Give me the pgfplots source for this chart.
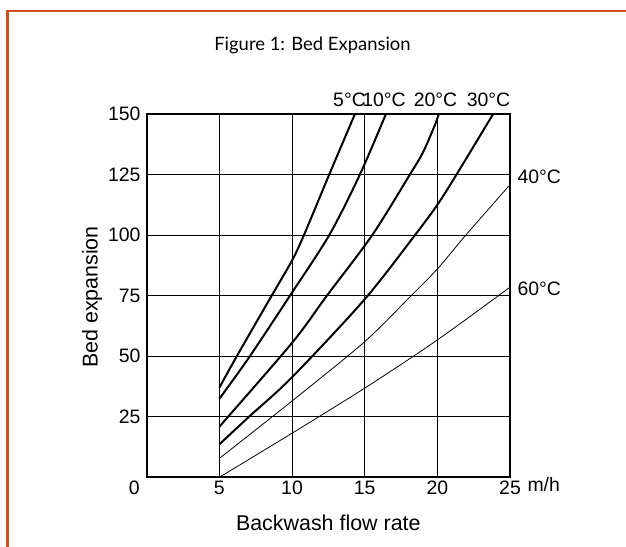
\documentclass[border=0pt]{standalone}
\usepackage{fontspec}
\setmainfont{Liberation Sans}
\newfontfamily\titlefont{Lato}
\usepackage{pgfplots}
\pgfplotsset{compat=1.18}
\definecolor{frameorange}{RGB}{208,80,32}
\newcommand\tfs{\fontsize{19.5}{19.5}\selectfont}
\begin{document}
\begin{tikzpicture}
\fill[white] (0bp,0bp) rectangle (626bp,547bp);
\useasboundingbox (0bp,0bp) rectangle (626bp,547bp);
\draw[frameorange, line width=2.4bp] (7.5bp,-2bp) -- (7.5bp,536bp) -- (630bp,536bp);
\begin{axis}[
  at={(146.7bp,69.7bp)}, anchor=south west,
  scale only axis, width=363.3bp, height=363.3bp,
  xmin=0, xmax=25, ymin=0, ymax=150,
  xtick={5,10,15,20,25}, ytick={25,50,75,100,125,150},
  grid=major, major grid style={black, line width=0.8bp},
  axis line style={line width=2bp},
  tick style={draw=none},
  ticklabel style={font=\tfs},
  /pgf/number format/assume math mode=true,
  xticklabel style={inner sep=0pt, yshift=-3.5bp},
  yticklabel style={inner sep=0pt, xshift=-6bp},
]
% 5 C
\addplot[black, line width=2bp, smooth] coordinates {(5,37) (6.2,50) (8.6,75) (10,89.5) (10.82,100) (12.56,125) (14.33,150)};
% 10 C
\addplot[black, line width=2bp, smooth] coordinates {(5,32.4) (7.1,50) (9.86,75) (12.56,100) (14.67,125) (16.46,150)};
% 20 C
\addplot[black, line width=2bp, smooth] coordinates {(5,20.9) (10,55.5) (12.4,75) (15.52,100) (18.11,125) (19.0,134) (19.8,145) (20.1,150)};
% 30 C
\addplot[black, line width=2bp, smooth] coordinates {(5,13.6) (7.04,25) (10,41.3) (15,73.5) (18.46,100) (20,112.5) (21.32,125) (23.84,150)};
% 40 C
\addplot[black, line width=0.8bp, smooth] coordinates {(5,7.8) (10,31.5) (15,56) (18.2,75) (20,86) (21.96,100) (25,120.8)};
% 60 C
\addplot[black, line width=0.8bp, smooth] coordinates {(5,0) (10,18.2) (15,36.8) (20,56.7) (25,78.5)};
\end{axis}
\node[font=\tfs] at (134.3bp,59bp) {0};
\node[font=\tfs, anchor=west] at (524bp,62bp) {m/h};
\node[font=\tfs] at (349.5bp,447.3bp) {5°C};
\node[font=\tfs] at (384bp,447.3bp) {10°C};
\node[font=\tfs] at (435.5bp,447.3bp) {20°C};
\node[font=\tfs] at (488.5bp,447.3bp) {30°C};
\node[font=\tfs, anchor=west] at (514bp,370.3bp) {40°C};
\node[font=\tfs, anchor=west] at (514bp,258bp) {60°C};
\node[font=\fontsize{21.5}{21.5}\selectfont] at (328.3bp,24bp) {Backwash flow rate};
\node[font=\fontsize{21.5}{21.5}\selectfont, rotate=90] at (92bp,250bp) {Bed expansion};
\node[font=\titlefont\fontsize{18.5}{18.5}\selectfont] at (312.5bp,502bp) {Figure 1: Bed Expansion};
\end{tikzpicture}
\end{document}
